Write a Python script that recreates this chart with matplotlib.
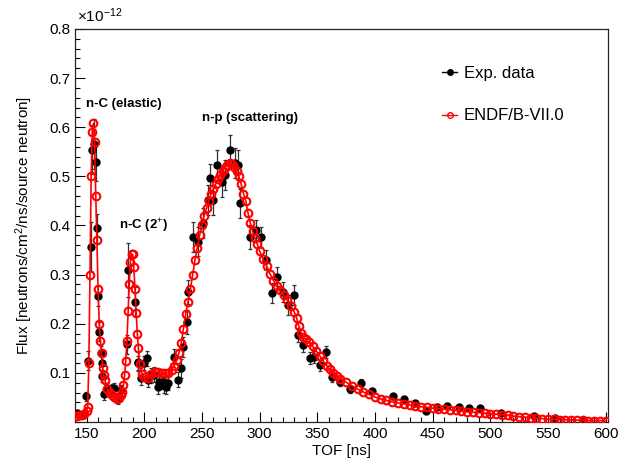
import matplotlib
matplotlib.use("Agg")
import matplotlib.pyplot as plt
import numpy as np
from matplotlib.lines import Line2D
from matplotlib.ticker import MultipleLocator

plt.rcParams["font.family"] = ["Liberation Sans", "DejaVu Sans"]
plt.rcParams["mathtext.fontset"] = "custom"
plt.rcParams["mathtext.rm"] = "Liberation Sans"
plt.rcParams["mathtext.it"] = "Liberation Sans:italic"

# ENDF/B-VII.0 simulation (units of 1e-12)
endf_tof = [140, 142, 144, 146, 148, 150, 151, 152, 153, 154, 155, 156, 157, 158, 159, 160,
            161, 162, 163, 164, 165, 166, 168, 170, 172, 174, 176, 178, 180, 181, 182, 183,
            184, 185, 186, 187, 188, 189, 190, 191, 192, 193, 194, 195, 196, 198, 200, 203,
            206, 209, 212, 215, 218, 221, 224, 226, 228, 230, 232, 234, 236, 238, 240, 242,
            244, 246, 248, 250, 252, 254, 256, 258, 260, 262, 264, 266, 268, 270, 272, 274,
            276, 278, 280, 282, 284, 286, 288, 290, 292, 294, 296, 298, 300, 303, 306, 309,
            312, 315, 318, 321, 324, 327, 330, 332, 334, 336, 338, 340, 343, 346, 349, 352,
            355, 358, 361, 364, 367, 370, 375, 380, 385, 390, 395, 400, 405, 410, 415, 420,
            425, 430, 435, 440, 445, 450, 455, 460, 465, 470, 475, 480, 485, 490, 495, 500,
            505, 510, 515, 520, 525, 530, 535, 540, 545, 550, 555, 560, 565, 570, 575, 580,
            585, 590, 595, 600]
endf_flux = [0.012, 0.013, 0.014, 0.015, 0.017, 0.022, 0.03, 0.12, 0.3, 0.5, 0.59, 0.608, 0.57, 0.46, 0.37, 0.27,
             0.2, 0.165, 0.14, 0.11, 0.095, 0.085, 0.067, 0.06, 0.055, 0.05, 0.047, 0.048, 0.055, 0.062, 0.075, 0.095,
             0.125, 0.165, 0.225, 0.28, 0.325, 0.342, 0.341, 0.315, 0.27, 0.222, 0.18, 0.15, 0.118, 0.097, 0.092, 0.09,
             0.097, 0.101, 0.102, 0.1, 0.099, 0.099, 0.106, 0.115, 0.126, 0.14, 0.16, 0.19, 0.22, 0.245, 0.27, 0.3,
             0.33, 0.355, 0.38, 0.4, 0.42, 0.435, 0.45, 0.465, 0.475, 0.485, 0.495, 0.503, 0.51, 0.518, 0.524, 0.527,
             0.525, 0.52, 0.51, 0.5, 0.485, 0.465, 0.45, 0.425, 0.405, 0.388, 0.375, 0.362, 0.348, 0.332, 0.318, 0.302,
             0.288, 0.277, 0.268, 0.258, 0.248, 0.236, 0.224, 0.212, 0.195, 0.182, 0.174, 0.168, 0.162, 0.154, 0.145, 0.135,
             0.125, 0.115, 0.107, 0.1, 0.093, 0.088, 0.081, 0.074, 0.067, 0.061, 0.056, 0.051, 0.047, 0.044, 0.041, 0.039,
             0.037, 0.035, 0.033, 0.031, 0.03, 0.028, 0.027, 0.026, 0.025, 0.024, 0.022, 0.021, 0.02, 0.019, 0.018, 0.017,
             0.016, 0.015, 0.014, 0.012, 0.011, 0.01, 0.009, 0.008, 0.007, 0.006, 0.006, 0.005, 0.005, 0.004, 0.004, 0.004,
             0.003, 0.003, 0.003, 0.003]

# experimental data (units of 1e-12)
exp_tof = [142, 144.5, 147, 149.5, 151, 153.5, 154.5, 156.5, 158, 159.5, 160.2, 161, 162.2, 163.2, 163.8,
           165.4, 167.5, 169.8, 172, 174, 177, 180, 184.8, 186.3, 192, 194.4, 195, 197.5, 199.5, 202,
           203.5, 206, 208.5, 211.7, 213, 215, 217, 219, 221, 226, 229, 232, 234, 236.9, 238.3,
           242.6, 247, 251.3, 255.4, 257, 260, 262.9, 267.2, 270, 274.5, 278.8, 281.7, 283.1, 291.8,
           296.7, 301, 305.4, 310.6, 315, 320.7, 325, 329.4, 333.7, 338, 343.3, 347.3, 352.5, 357.5,
           362.7, 369.9, 378.6, 387.8, 397.4, 416, 425.4, 435, 444.2, 453.8, 462.5, 472.5, 481.8,
           491.3, 509, 537.6, 556.4, 580]
exp_flux = [0.018, 0.015, 0.014, 0.052, 0.125, 0.357, 0.554, 0.566, 0.53, 0.394, 0.256, 0.184, 0.14, 0.12, 0.093,
            0.056, 0.07, 0.065, 0.068, 0.069, 0.046, 0.065, 0.158, 0.31, 0.245, 0.123, 0.12, 0.09, 0.12, 0.13,
            0.086, 0.095, 0.096, 0.072, 0.082, 0.082, 0.075, 0.072, 0.08, 0.133, 0.086, 0.109, 0.153, 0.204, 0.265,
            0.377, 0.367, 0.405, 0.452, 0.496, 0.452, 0.523, 0.489, 0.503, 0.554, 0.527, 0.523, 0.445, 0.377,
            0.391, 0.377, 0.33, 0.263, 0.296, 0.265, 0.238, 0.259, 0.177, 0.157, 0.13, 0.133, 0.116, 0.142,
            0.092, 0.082, 0.068, 0.08, 0.063, 0.052, 0.046, 0.038, 0.023, 0.031, 0.033, 0.03, 0.028,
            0.028, 0.019, 0.012, 0.008, 0.005]
exp_err = [0.006, 0.006, 0.006, 0.01, 0.02, 0.05, 0.05, 0.05, 0.04, 0.03, 0.02, 0.02, 0.015, 0.015, 0.012,
           0.012, 0.01, 0.01, 0.01, 0.01, 0.01, 0.01, 0.02, 0.055, 0.03, 0.02, 0.015, 0.015, 0.015, 0.015,
           0.015, 0.015, 0.015, 0.015, 0.015, 0.015, 0.015, 0.015, 0.015, 0.015, 0.015, 0.02, 0.02, 0.025, 0.025,
           0.03, 0.03, 0.03, 0.03, 0.03, 0.03, 0.03, 0.03, 0.03, 0.03, 0.03, 0.03, 0.03, 0.025,
           0.02, 0.02, 0.02, 0.02, 0.02, 0.02, 0.02, 0.02, 0.015, 0.015, 0.012, 0.012, 0.012, 0.012,
           0.01, 0.008, 0.008, 0.008, 0.006, 0.006, 0.006, 0.005, 0.005, 0.005, 0.005, 0.005, 0.005,
           0.005, 0.004, 0.004, 0.004, 0.004]
exp_tof_err = 1.5

fig = plt.figure(figsize=(6.2, 4.73), dpi=100)
ax = fig.add_axes([75 / 620, 51 / 473, 533 / 620, 393 / 473])

ax.errorbar(exp_tof, exp_flux, yerr=exp_err, xerr=exp_tof_err, fmt="o", color="black",
            ms=5, elinewidth=0.9, capsize=1.5, capthick=0.9, ecolor="#333333", zorder=2)
ax.plot(endf_tof, endf_flux, "-o", color="red", mfc="none", mec="red", ms=5.5, mew=1.5,
        lw=1.2, zorder=3)

ax.set_xlim(140, 602)
ax.set_ylim(0, 0.8)
ax.xaxis.set_major_locator(MultipleLocator(50))
ax.xaxis.set_minor_locator(MultipleLocator(10))
ax.set_yticks(np.arange(0.1, 0.81, 0.1))
ax.set_yticklabels([f"{v:.1f}" for v in np.arange(0.1, 0.81, 0.1)])
ax.yaxis.set_minor_locator(MultipleLocator(0.02))
ax.tick_params(which="both", direction="in", top=False, right=False, labelsize=11, width=0.8)
ax.tick_params(which="major", length=7)
ax.tick_params(which="minor", length=3.5)
for s in ax.spines.values():
    s.set_linewidth(0.9)
    s.set_color("#222222")

ax.set_xlabel("TOF [ns]", fontsize=11, labelpad=2)
ax.set_ylabel("Flux [neutrons/cm$^2$/ns/source neutron]", fontsize=11, labelpad=10)
fig.text(77 / 620, 1 - 16 / 473, r"$\times$10$^{-12}$", fontsize=11, va="center", ha="left")

ax.text(149.5, 0.648, "n-C (elastic)", fontsize=9.5, fontweight="bold", va="center")
ax.text(250, 0.618, "n-p (scattering)", fontsize=9.5, fontweight="bold", va="center")
ax.text(178.5, 0.40, "n-C (2$^{+}$)", fontsize=9.5, fontweight="bold", va="center")

handles = [
    Line2D([], [], color="black", marker="o", ms=4, lw=1.0),
    Line2D([], [], color="red", marker="o", mfc="none", ms=4, mew=1.0, lw=1.0),
]
ax.legend(handles, ["Exp. data", "ENDF/B-VII.0"], loc="upper left",
          bbox_to_anchor=(442 / 620, 1 - 66 / 473), bbox_transform=fig.transFigure,
          frameon=False, fontsize=12, handlelength=0.9, handletextpad=0.4, labelspacing=1.65,
          borderpad=0, borderaxespad=0)

fig.savefig("out.png", dpi=100)
